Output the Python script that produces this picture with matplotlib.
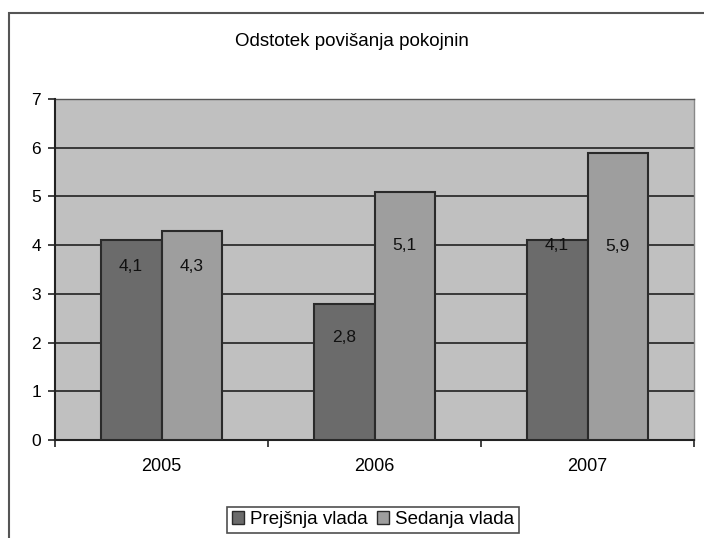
import matplotlib.pyplot as plt
import numpy as np
from matplotlib.patches import Patch, Rectangle

plt.rcParams['font.family'] = ['Liberation Sans', 'DejaVu Sans']

# ----- data -----
years = ['2005', '2006', '2007']
prejsnja = [4.1, 2.8, 4.1]
sedanja = [4.3, 5.1, 5.9]
labels_prejsnja = ['4,1', '2,8', '4,1']
labels_sedanja = ['4,3', '5,1', '5,9']
# label heights (data units) as they sit in the original
label_y_prejsnja = [3.56, 2.1, 3.99]
label_y_sedanja = [3.56, 3.99, 3.97]

title = 'Odstotek povišanja pokojnin'
series_names = ['Prejšnja vlada', 'Sedanja vlada']

dark = '#6b6b6b'
light = '#9e9e9e'
plot_bg = '#c0c0c0'
edge = '#2a2a2a'

fig = plt.figure(figsize=(7.04, 5.38), dpi=100)
ax = fig.add_axes([55 / 704, 1 - 440 / 538, (694 - 55) / 704, (440 - 99) / 538])
ax.set_facecolor(plot_bg)

# outer chart frame (runs off the right and bottom edge like the reference)
fig.patches.append(Rectangle((9 / 704, -0.5), 2, 1 - 13 / 538 + 0.5,
                             transform=fig.transFigure, fill=False,
                             edgecolor='#555555', linewidth=1.5))

x = np.arange(len(years))
w = 0.285
ax.bar(x - w / 2, prejsnja, w, color=dark, edgecolor=edge, linewidth=1.5, zorder=3)
ax.bar(x + w / 2, sedanja, w, color=light, edgecolor=edge, linewidth=1.5, zorder=3)

for i in range(len(years)):
    ax.text(x[i] - w / 2, label_y_prejsnja[i], labels_prejsnja[i],
            ha='center', va='center', fontsize=12.5, color='#111111', zorder=4)
    ax.text(x[i] + w / 2, label_y_sedanja[i], labels_sedanja[i],
            ha='center', va='center', fontsize=12.5, color='#111111', zorder=4)

ax.set_xlim(-0.5, len(years) - 0.5)
ax.set_ylim(0, 7)
ax.set_yticks(range(0, 8))
for yv in range(1, 8):
    ax.axhline(yv, color='#222222', linewidth=1.2, zorder=1)

# category labels centred, ticks at category boundaries
ax.set_xticks(np.arange(-0.5, len(years), 1.0))
ax.set_xticklabels([])
ax.set_xticks(x, minor=True)
ax.set_xticklabels(years, minor=True, fontsize=13)
ax.tick_params(axis='x', which='minor', length=0, pad=13)
ax.tick_params(axis='x', which='major', direction='out', length=5, width=1.2, color='#222222')
ax.tick_params(axis='y', direction='out', length=5, width=1.2, color='#222222',
               labelsize=12.5, pad=5)

for side in ['top', 'right']:
    ax.spines[side].set_visible(False)
ax.spines['left'].set_color('#222222')
ax.spines['left'].set_linewidth(1.5)
ax.spines['bottom'].set_color('#222222')
ax.spines['bottom'].set_linewidth(1.5)
ax.plot([1, 1], [0, 1], transform=ax.transAxes, color='#888888', linewidth=1, clip_on=False)
ax.plot([0, 1], [1, 1], transform=ax.transAxes, color='#555555', linewidth=1, clip_on=False)

fig.text(352 / 704, 1 - 42 / 538, title, ha='center', va='center', fontsize=13.5)

handles = [Patch(facecolor=dark, edgecolor=edge), Patch(facecolor=light, edgecolor=edge)]
leg = fig.legend(handles, series_names, loc='lower center', ncol=2,
                 bbox_to_anchor=(373 / 704, 5 / 538), fontsize=13.5,
                 frameon=True, fancybox=False, edgecolor='#222222',
                 handlelength=0.65, handleheight=0.65, handletextpad=0.3,
                 columnspacing=0.5, borderpad=0.25, borderaxespad=0)
leg.get_frame().set_linewidth(1.2)

fig.savefig('out.png', dpi=100)
